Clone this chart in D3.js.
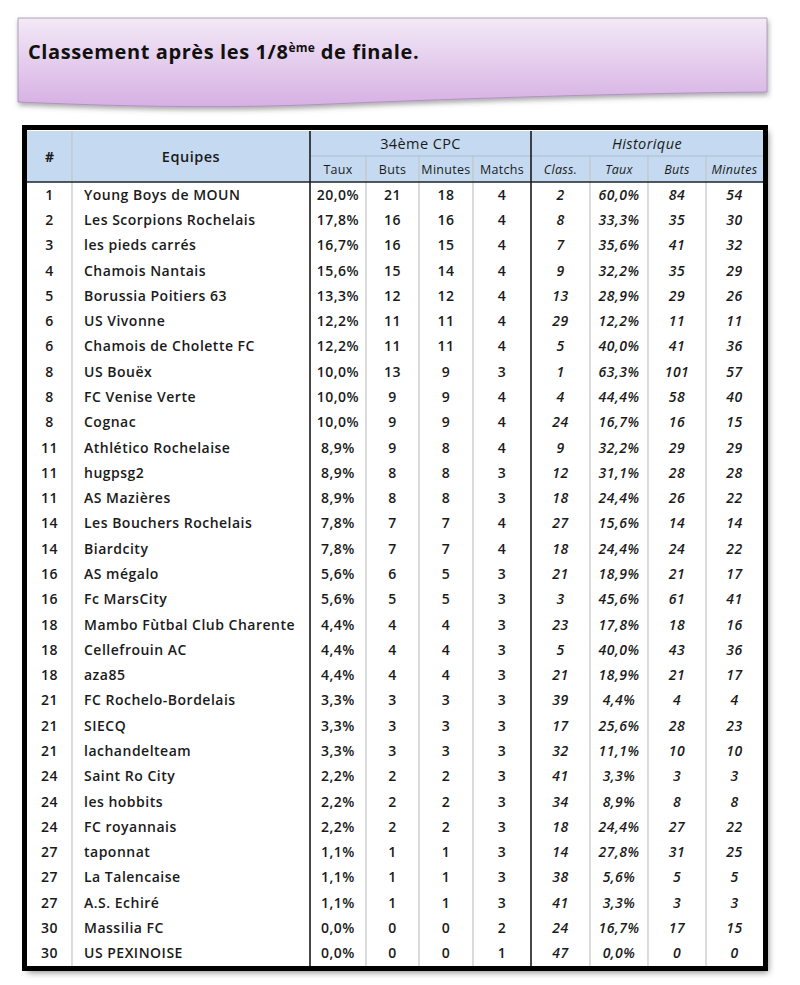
<!DOCTYPE html>
<html><head><meta charset="utf-8">
<script src="https://cdn.jsdelivr.net/npm/d3@7"></script>
<style>body{margin:0;background:#fff}svg{display:block}</style>
</head><body>
<svg id="c" width="800" height="985"></svg>
<script>
const ranks = [1,2,3,4,5,6,6,8,8,8,11,11,11,14,14,16,16,18,18,18,21,21,21,24,24,24,27,27,27,30,30];
const teams = ["Young Boys de MOUN","Les Scorpions Rochelais","les pieds carrés","Chamois Nantais","Borussia Poitiers 63","US Vivonne","Chamois de Cholette FC","US Bouëx","FC Venise Verte","Cognac","Athlético Rochelaise","hugpsg2","AS Mazières","Les Bouchers Rochelais","Biardcity","AS mégalo","Fc MarsCity","Mambo Fùtbal Club Charente","Cellefrouin AC","aza85","FC Rochelo-Bordelais","SIECQ","lachandelteam","Saint Ro City","les hobbits","FC royannais","taponnat","La Talencaise","A.S. Echiré","Massilia FC","US PEXINOISE"];
const cpcTaux = ["20,0%","17,8%","16,7%","15,6%","13,3%","12,2%","12,2%","10,0%","10,0%","10,0%","8,9%","8,9%","8,9%","7,8%","7,8%","5,6%","5,6%","4,4%","4,4%","4,4%","3,3%","3,3%","3,3%","2,2%","2,2%","2,2%","1,1%","1,1%","1,1%","0,0%","0,0%"];
const cpcButs = [21,16,16,15,12,11,11,13,9,9,9,8,8,7,7,6,5,4,4,4,3,3,3,2,2,2,1,1,1,0,0];
const cpcMinutes = [18,16,15,14,12,11,11,9,9,9,8,8,8,7,7,5,5,4,4,4,3,3,3,2,2,2,1,1,1,0,0];
const cpcMatchs = [4,4,4,4,4,4,4,3,4,4,4,3,3,4,4,3,3,3,3,3,3,3,3,3,3,3,3,3,3,2,1];
const histClass = [2,8,7,9,13,29,5,1,4,24,9,12,18,27,18,21,3,23,5,21,39,17,32,41,34,18,14,38,41,24,47];
const histTaux = ["60,0%","33,3%","35,6%","32,2%","28,9%","12,2%","40,0%","63,3%","44,4%","16,7%","32,2%","31,1%","24,4%","15,6%","24,4%","18,9%","45,6%","17,8%","40,0%","18,9%","4,4%","25,6%","11,1%","3,3%","8,9%","24,4%","27,8%","5,6%","3,3%","16,7%","0,0%"];
const histButs = [84,35,41,35,29,11,41,101,58,16,29,28,26,14,24,21,61,18,43,21,4,28,10,3,8,27,31,5,3,17,0];
const histMinutes = [54,30,32,29,26,11,36,57,40,15,29,28,22,14,22,17,41,16,36,17,4,23,10,3,8,22,25,5,3,15,0];
const groupLabels = ["34ème CPC","Historique"];
const subLabels = ["Taux","Buts","Minutes","Matchs","Class.","Taux","Buts","Minutes"];

const cols = [
  {key:"rank", vals:ranks},
  {key:"team", vals:teams},
  {key:"cT", vals:cpcTaux},
  {key:"cB", vals:cpcButs},
  {key:"cM", vals:cpcMinutes},
  {key:"cMa", vals:cpcMatchs},
  {key:"hC", vals:histClass, it:true},
  {key:"hT", vals:histTaux, it:true},
  {key:"hB", vals:histButs, it:true},
  {key:"hM", vals:histMinutes, it:true}
];
const edges = [27,72,310,366,419,473,531,590,648,706,763];
const FONT = "'Open Sans', 'DejaVu Sans', sans-serif";

const svg = d3.select("#c");
const defs = svg.append("defs");
const sh = defs.append("filter").attr("id","sh").attr("x","-5%").attr("y","-5%").attr("width","115%").attr("height","120%");
sh.append("feDropShadow").attr("dx",3).attr("dy",4).attr("stdDeviation",3).attr("flood-color","#000").attr("flood-opacity",0.45);
const sh2 = defs.append("filter").attr("id","sh2").attr("x","-5%").attr("y","-20%").attr("width","115%").attr("height","150%");
sh2.append("feDropShadow").attr("dx",1).attr("dy",3).attr("stdDeviation",2.5).attr("flood-color","#555").attr("flood-opacity",0.5);
const gr = defs.append("linearGradient").attr("id","tg").attr("x1",0).attr("y1",0).attr("x2",0).attr("y2",1);
gr.append("stop").attr("offset","0%").attr("stop-color","#f3e9f7");
gr.append("stop").attr("offset","100%").attr("stop-color","#d6b0e3");

// title box
svg.append("path")
  .attr("d","M18,18 L767,18 L767,92 C640,93 470,98 330,104 C220,109 110,106 18,102 Z")
  .attr("fill","url(#tg)").attr("stroke","#a58fb3").attr("stroke-width",0.8).attr("filter","url(#sh2)");
const title = svg.append("text").attr("x",28).attr("y",59)
  .attr("font-family",FONT).attr("font-weight",700).attr("font-size",20).attr("letter-spacing",0.6).attr("fill","#111");
title.append("tspan").text("Classement après les 1/8");
title.append("tspan").attr("font-size",12).attr("letter-spacing",0.2).attr("dy",-7).text("ème");
title.append("tspan").attr("dy",7).text(" de finale.");

// table
const tTop = 131, headMid = 156, headBot = 182, tBottom = 966;
const y = d3.scaleBand().domain(d3.range(teams.length)).range([headBot, tBottom]);
const xc = i => (edges[i]+edges[i+1])/2;

const t = svg.append("g");
t.append("rect").attr("x",24.5).attr("y",127.5).attr("width",741).attr("height",841)
  .attr("fill","#fff").attr("filter","url(#sh)");
t.append("rect").attr("x",27).attr("y",tTop).attr("width",edges[10]-27).attr("height",headBot-tTop).attr("fill","#c5daf0");

for (let i=1;i<10;i++){
  if (i===2||i===6) continue;
  const y0 = (i===1)? tTop : headMid;
  t.append("line").attr("x1",edges[i]).attr("x2",edges[i]).attr("y1",y0).attr("y2",tBottom)
    .attr("stroke","#c4c4c4").attr("stroke-width",1.2);
}
t.append("line").attr("x1",edges[2]).attr("x2",edges[10]).attr("y1",headMid).attr("y2",headMid)
  .attr("stroke","#a9bfd6").attr("stroke-width",1);
t.append("line").attr("x1",27).attr("x2",edges[10]).attr("y1",headBot).attr("y2",headBot)
  .attr("stroke","#222").attr("stroke-width",1.6);
[2,6].forEach(i=>{
  t.append("line").attr("x1",edges[i]).attr("x2",edges[i]).attr("y1",tTop).attr("y2",tBottom)
    .attr("stroke","#1a1a1a").attr("stroke-width",1.6);
});
t.append("rect").attr("x",24.5).attr("y",127.5).attr("width",741).attr("height",841)
  .attr("fill","none").attr("stroke","#000").attr("stroke-width",5);

const hdr = svg.append("g").attr("font-family",FONT).attr("fill","#1a1a1a").attr("text-anchor","middle");
hdr.append("text").attr("x",xc(0)).attr("y",(tTop+headBot)/2+5).attr("font-size",14).attr("font-weight",700).text("#");
hdr.append("text").attr("x",xc(1)).attr("y",(tTop+headBot)/2+5).attr("font-size",14.5).attr("font-weight",600).attr("letter-spacing",0.5).text("Equipes");
hdr.append("text").attr("x",(edges[2]+edges[6])/2).attr("y",(tTop+headMid)/2+5).attr("font-size",14.5).attr("font-weight",500).attr("letter-spacing",0.4).text(groupLabels[0]);
hdr.append("text").attr("x",(edges[6]+edges[10])/2).attr("y",(tTop+headMid)/2+5).attr("font-size",14.5).attr("font-weight",500).attr("letter-spacing",0.4).attr("font-style","italic").text(groupLabels[1]);
subLabels.forEach((s,i)=>{
  hdr.append("text").attr("x",xc(i+2)).attr("y",(headMid+headBot)/2+4.5).attr("font-size",12.5)
    .attr("font-weight",500).attr("letter-spacing",0.3)
    .attr("font-style", i>=4?"italic":"normal").text(s);
});

const body = svg.append("g").attr("font-family",FONT).attr("fill","#1a1a1a").attr("font-weight",600).attr("font-size",14).attr("letter-spacing",0.5);
cols.forEach((c,ci)=>{
  body.append("g").selectAll("text").data(c.vals).join("text")
    .attr("x", ci===1 ? edges[1]+12 : xc(ci))
    .attr("y",(d,i)=>y(i)+y.bandwidth()/2+5)
    .attr("text-anchor", ci===1 ? "start":"middle")
    .attr("font-style", c.it ? "italic":"normal")
    .text(d=>d);
});
</script>
</body></html>
